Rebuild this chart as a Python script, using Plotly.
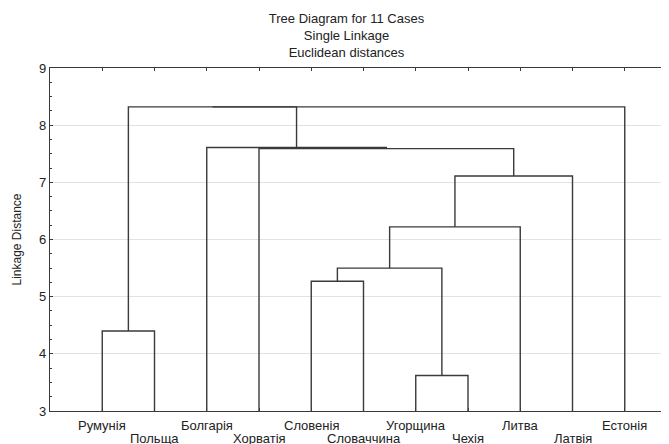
import plotly.graph_objects as go

leaves = ["Румунія", "Польща", "Болгарія", "Хорватія", "Словенія", "Словаччина",
          "Угорщина", "Чехія", "Литва", "Латвія", "Естонія"]
# merges: (left node, right node, linkage distance); leaves are 0..10, new clusters 11..
merge_left = [6, 0, 4, 13, 14, 15, 3, 2, 12, 19]
merge_right = [7, 1, 5, 11, 8, 9, 16, 17, 18, 10]
merge_height = [3.62, 4.40, 5.27, 5.50, 6.22, 7.11, 7.59, 7.61, 8.32, 8.32]

y_min, y_max = 3, 9
x_max = 12

pos = {i: i + 1 for i in range(len(leaves))}
hgt = {i: y_min for i in range(len(leaves))}
xs, ys = [], []
for k, (a, b, h) in enumerate(zip(merge_left, merge_right, merge_height)):
    node = len(leaves) + k
    xa, xb = pos[a], pos[b]
    xs += [xa, xa, xb, xb, None]
    ys += [hgt[a], h, h, hgt[b], None]
    pos[node] = (xa + xb) / 2
    hgt[node] = h

line_col = "#3a3a3a"
text_col = "#222222"
font = "Liberation Sans, Arial, sans-serif"

fig = go.Figure()
fig.add_trace(go.Scatter(x=xs, y=ys, mode="lines",
                         line=dict(color=line_col, width=1.4),
                         hoverinfo="skip", showlegend=False))

for i, name in enumerate(leaves):
    fig.add_annotation(x=i + 1, y=0, xref="x", yref="paper", text=name,
                       showarrow=False, yanchor="top",
                       yshift=-5 if i % 2 == 0 else -18,
                       font=dict(size=13, color=text_col, family=font))

fig.update_layout(
    width=669, height=444,
    margin=dict(l=42, r=0, t=60, b=41),
    paper_bgcolor="white", plot_bgcolor="white",
    font=dict(family=font, color=text_col),
    title=dict(text="Tree Diagram for 11 Cases<br>Single Linkage<br>Euclidean distances",
               x=0.506, xref="container", xanchor="center",
               y=1 - 15 / 444, yref="container", yanchor="top",
               font=dict(size=13, color=text_col, family=font)),
    xaxis=dict(range=[0, x_max], tickvals=[i + 1 for i in range(len(leaves))],
               showticklabels=False, ticks="inside", ticklen=3, tickcolor=line_col,
               showline=True, linecolor=line_col, linewidth=1.4, mirror="allticks",
               showgrid=False, zeroline=False, fixedrange=True),
    yaxis=dict(range=[y_min, y_max], dtick=1, ticks="inside", ticklen=3,
               tickcolor=line_col, showline=True, linecolor=line_col, linewidth=1.4,
               showgrid=True, gridcolor="#e2e2e2", gridwidth=1, zeroline=False,
               minor=dict(dtick=0.25, ticks="inside", ticklen=2, tickcolor=line_col,
                          showgrid=False),
               tickfont=dict(size=13, color=text_col, family=font),
               title=dict(text="Linkage Distance", standoff=14,
                          font=dict(size=12, color=text_col, family=font))),
)

fig.write_html("out.html")
